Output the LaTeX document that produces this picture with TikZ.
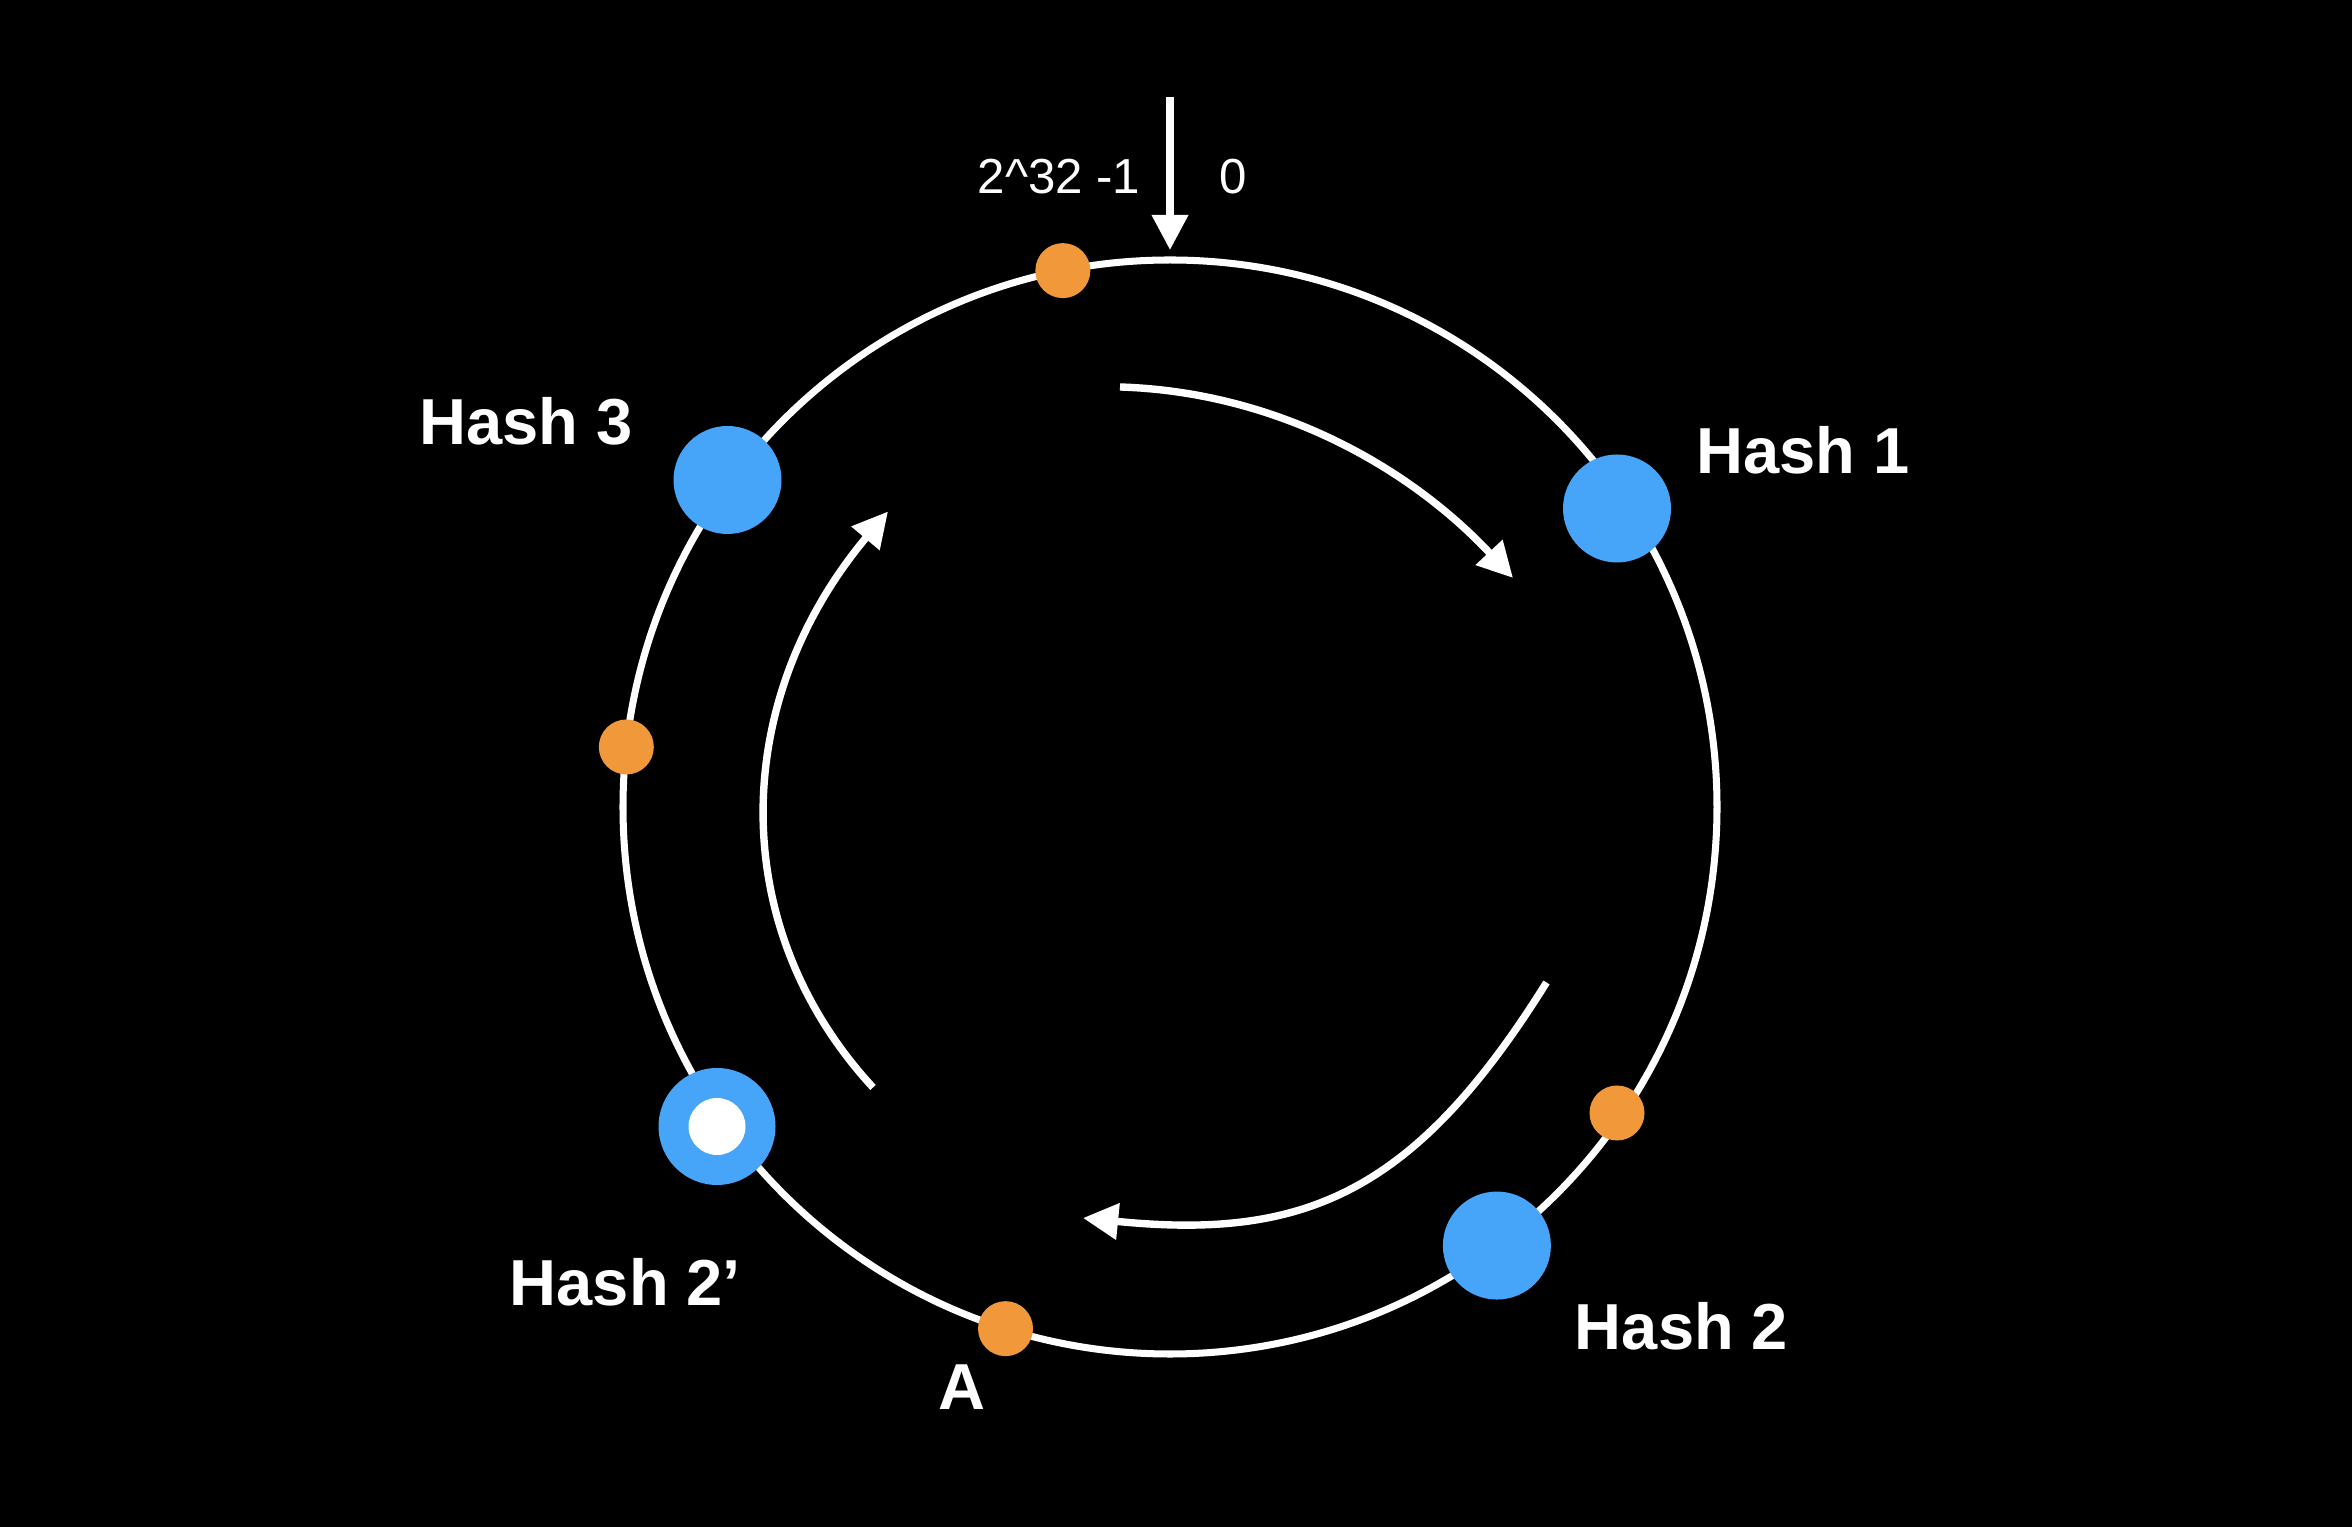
\documentclass[tikz,border=0pt]{standalone}
\usepackage{fontspec}
\setmainfont{Liberation Sans}
\usetikzlibrary{arrows.meta}
\definecolor{hashblue}{HTML}{46A5F8}
\definecolor{keyorange}{HTML}{F0983A}
\begin{document}
\begin{tikzpicture}[
		hashpt/.style={circle,fill=hashblue,inner sep=0pt,minimum size=1.08cm},
		keypt/.style={circle,fill=keyorange,inner sep=0pt,minimum size=0.55cm},
		lbl/.style={text=white,font=\bfseries\fontsize{18.5}{22}\selectfont},
		num/.style={text=white,font=\fontsize{14}{17}\selectfont},
		flow/.style={white,line width=2.1pt,-{Triangle[length=10pt,width=10pt]}}
	]
		\fill[black] (0,0) rectangle (23.52,15.27);
		\useasboundingbox (0,0) rectangle (23.52,15.27);
		\coordinate (c) at (11.70,7.20);
		\draw[white,line width=2pt] (c) circle (5.47);
		% start of the ring
		\coordinate (zero) at (11.70,14.30);
		\coordinate (zerotip) at (11.70,12.77);
		\draw[white,line width=2pt,-{Triangle[length=10pt,width=10pt]}] (zero) -- (zerotip);
		\node[num] (max) at (10.59,13.50) {2\^{}32 -1};
		\node[num] (min) at (12.33,13.50) {0};
		% keys
		\node[keypt] (k1) at ([shift={(101.3:5.47)}]c) {};
		\node[keypt] (k2) at ([shift={(173.7:5.47)}]c) {};
		\node[keypt] (k3) at (16.17,4.14) {};
		\node[keypt] (ka) at ([shift={(-107.5:5.47)}]c) {};
		\node[lbl] (la) at (9.615,1.395) {A};
		% servers
		\node[hashpt] (h1) at (16.17,10.185) {};
		\node[hashpt] (h2) at ([shift={(-53.3:5.47)}]c) {};
		\node[hashpt] (h3) at (7.275,10.47) {};
		\node[hashpt,minimum size=1.17cm] (h2b) at (7.17,4.005) {};
		\node[circle,fill=white,inner sep=0pt,minimum size=0.57cm] at (h2b) {};
		\node[lbl] (lh1) at (18.03,10.77) {Hash 1};
		\node[lbl] (lh2) at (16.815,2.01) {Hash 2};
		\node[lbl] (lh3) at (5.26,11.06) {Hash 3};
		\node[lbl] (lh2b) at (6.255,2.445) {Hash 2’};
		% clockwise direction
		\coordinate (a1) at (11.20,11.40);
		\coordinate (b1) at (15.13,9.49);
		\coordinate (a2) at (15.465,5.445);
		\coordinate (b2) at (10.83,3.09);
		\coordinate (a3) at (8.73,4.395);
		\coordinate (b3) at (8.88,10.155);
		\draw[flow] (a1) .. controls (12.80,11.35) and (14.12,10.57) .. (b1);
		\draw[flow] (a2) .. controls (14.14,3.32) and (13.03,2.87) .. (b2);
		\draw[flow] (a3) .. controls (7.25,6.00) and (7.30,8.27) .. (b3);
	\end{tikzpicture}
\end{document}
